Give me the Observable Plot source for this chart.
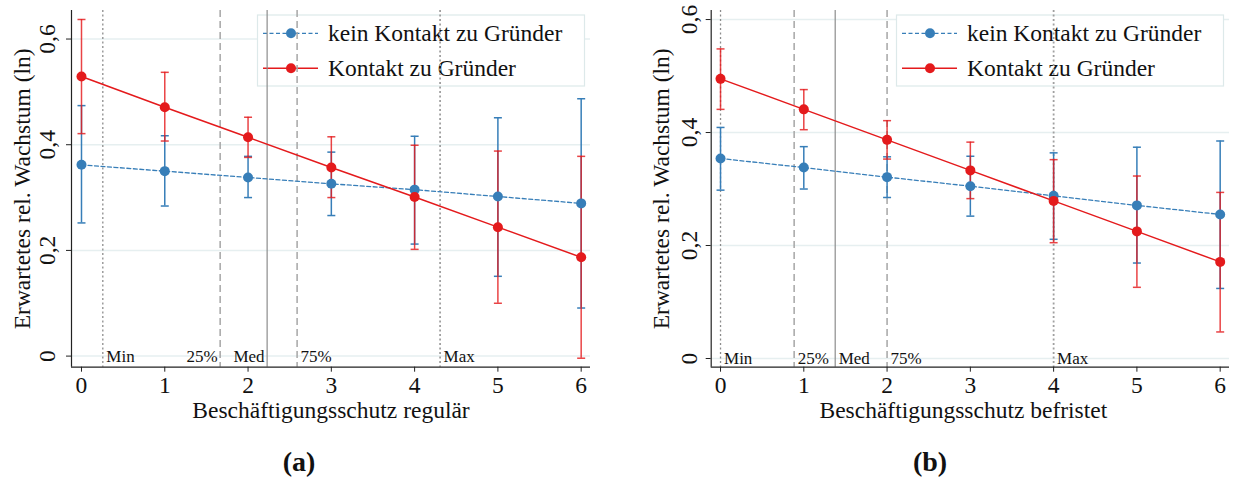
<!DOCTYPE html>
<html>
<head>
<meta charset="utf-8">
<script src="https://cdn.jsdelivr.net/npm/d3@7"></script>
<script src="https://cdn.jsdelivr.net/npm/@observablehq/plot@0.6"></script>
<style>
  html, body { margin: 0; padding: 0; background: #fff; }
  #fig { position: relative; width: 1237px; height: 483px; overflow: hidden; font-family: "Liberation Serif", serif; color: #111; }
  .panel { position: absolute; top: 0; }
  .panel svg { font-family: "Liberation Serif", serif; }
  .cap { position: absolute; font-family: "Liberation Serif", serif; font-weight: bold; font-size: 28px; line-height: 1; transform: translate(-50%, -50%); white-space: nowrap; }
</style>
</head>
<body>
<div id="fig"></div>
<script>
// ---- Data ---------------------------------------------------------------
const xValues = [0, 1, 2, 3, 4, 5, 6];
const xTicks = [0, 1, 2, 3, 4, 5, 6];
const yTicks = [0, 0.2, 0.4, 0.6];
const yTickLabels = ["0", "0,2", "0,4", "0,6"];
const seriesNames = ["kein Kontakt zu Gründer", "Kontakt zu Gründer"];
const yTitle = "Erwartetes rel. Wachstum (ln)";
const refLabels = ["Min", "25%", "Med", "75%", "Max"];

// (a) regular employment protection
const xTitleA = "Beschäftigungsschutz regulär";
const keinA    = [0.362, 0.350, 0.338, 0.326, 0.315, 0.302, 0.289];
const keinALo  = [0.252, 0.284, 0.300, 0.266, 0.212, 0.151, 0.091];
const keinAHi  = [0.474, 0.417, 0.378, 0.386, 0.416, 0.451, 0.487];
const kontaktA   = [0.529, 0.471, 0.414, 0.357, 0.301, 0.244, 0.187];
const kontaktALo = [0.421, 0.407, 0.376, 0.300, 0.202, 0.100, -0.004];
const kontaktAHi = [0.637, 0.537, 0.452, 0.415, 0.399, 0.388, 0.378];
const refA = [0.256, 1.665, 2.229, 2.589, 4.306];

// (b) temporary employment protection
const xTitleB = "Beschäftigungsschutz befristet";
const keinB    = [0.354, 0.338, 0.321, 0.305, 0.288, 0.271, 0.255];
const keinBLo  = [0.298, 0.300, 0.285, 0.252, 0.211, 0.169, 0.124];
const keinBHi  = [0.409, 0.375, 0.357, 0.358, 0.364, 0.374, 0.385];
const kontaktB   = [0.495, 0.441, 0.387, 0.333, 0.279, 0.225, 0.171];
const kontaktBLo = [0.441, 0.405, 0.353, 0.283, 0.205, 0.126, 0.047];
const kontaktBHi = [0.548, 0.476, 0.421, 0.383, 0.352, 0.323, 0.294];
const refB = [0, 0.884, 1.377, 2.0, 4.0];

// ---- Styling --------------------------------------------------------------
const BLUE = "#377eb8";
const RED = "#e41a1c";
const FONT = "Liberation Serif";
const FS = 23.5;

const seriesStyle = [
  {color: BLUE, dash: "4,2.5", width: 1.3},
  {color: RED, dash: null, width: 1.5}
];

const refStyle = {
  "Min": {stroke: "#8c8c8c", dash: "2,2.5", width: 1.3},
  "Max": {stroke: "#a0a0a0", dash: "2,2.5", width: 1.8},
  "25%": {stroke: "#a6a6a6", dash: "7,4", width: 1.5},
  "75%": {stroke: "#a6a6a6", dash: "7,4", width: 1.5},
  "Med": {stroke: "#8c8c8c", dash: null, width: 1.2}
};

// horizontal cap for the confidence interval bars
const capSymbol = {
  draw(context, size) {
    const r = Math.sqrt(size / Math.PI);
    context.moveTo(-r, 0);
    context.lineTo(r, 0);
  }
};

function rowsOf(est, lo, hi) {
  return xValues.map((x, i) => ({x, y: est[i], lo: lo[i], hi: hi[i]}));
}

function legendMark(index, scales, values, dims) {
  const right = dims.width - dims.marginRight - 5.5;
  const top = dims.marginTop + 5;
  const w = 327, h = 71;
  const left = right - w;
  const g = d3.create("svg:g");
  g.append("rect")
    .attr("x", left).attr("y", top).attr("width", w).attr("height", h)
    .attr("fill", "white").attr("stroke", "#dde9ea").attr("stroke-width", 1.2);
  seriesNames.forEach((name, i) => {
    const s = seriesStyle[i];
    const cy = top + 18.3 + i * 35;
    const ln = g.append("line")
      .attr("x1", left + 5.5).attr("x2", left + 60.5)
      .attr("y1", cy).attr("y2", cy)
      .attr("stroke", s.color).attr("stroke-width", s.width);
    if (s.dash) ln.attr("stroke-dasharray", s.dash);
    g.append("circle").attr("cx", left + 33.5).attr("cy", cy).attr("r", 5).attr("fill", s.color);
    g.append("text")
      .attr("x", left + 70.5).attr("y", cy).attr("dy", "0.32em")
      .attr("text-anchor", "start")
      .attr("font-family", FONT).attr("font-size", FS).attr("fill", "#111")
      .text(name);
  });
  return g.node();
}

function panel(cfg) {
  const series = [
    rowsOf(cfg.kein, cfg.keinLo, cfg.keinHi),
    rowsOf(cfg.kontakt, cfg.kontaktLo, cfg.kontaktHi)
  ];
  const refs = refLabels.map((label, i) => ({label, x: cfg.ref[i], base: yTicks[0]}));
  const marks = [];

  // background grid
  marks.push(Plot.ruleY(yTicks, {stroke: "#e6eff0", strokeWidth: 1.5}));

  // legend box (under the reference lines)
  marks.push(legendMark);

  // reference lines for the distribution of the moderator
  for (const r of refs) {
    const st = refStyle[r.label];
    marks.push(Plot.ruleX([r], {x: "x", stroke: st.stroke, strokeWidth: st.width, strokeDasharray: st.dash ?? undefined}));
  }
  const leftSide = refs.filter(r => cfg.labelsLeft.includes(r.label));
  const rightSide = refs.filter(r => !cfg.labelsLeft.includes(r.label));
  marks.push(Plot.text(rightSide, {x: "x", y: "base", text: "label", textAnchor: "start", dx: 3.5, lineAnchor: "middle", fontSize: 17, fontFamily: FONT, fill: "#111"}));
  marks.push(Plot.text(leftSide, {x: "x", y: "base", text: "label", textAnchor: "end", dx: -2.5, lineAnchor: "middle", fontSize: 17, fontFamily: FONT, fill: "#111"}));

  // axes
  marks.push(Plot.ruleX([cfg.xDomain[0]], {stroke: "#222", strokeWidth: 1.2}));
  marks.push(Plot.ruleY([cfg.yDomain[0]], {stroke: "#222", strokeWidth: 1.2}));
  marks.push(Plot.axisX({ticks: xTicks, tickFormat: d => String(d), tickSize: 5, tickPadding: 4.6, fontSize: FS, fontFamily: FONT, label: null, stroke: "#222", fill: "#111"}));
  marks.push(Plot.axisY({ticks: yTicks, tickSize: 5, tickFormat: () => "", label: null, stroke: "#222"}));
  marks.push(Plot.text(yTicks, {y: d => d, text: (d, i) => yTickLabels[i], frameAnchor: "left", dx: cfg.yTickDx, rotate: -90, textAnchor: "middle", lineAnchor: "middle", fontSize: FS, fontFamily: FONT, fill: "#111"}));

  // axis titles
  marks.push(Plot.text([cfg.xTitle], {text: d => d, frameAnchor: "bottom", dy: 43, dx: cfg.xTitleDx, lineAnchor: "middle", fontSize: FS, fontFamily: FONT, fill: "#111"}));
  marks.push(Plot.text([yTitle], {text: d => d, frameAnchor: "left", dx: cfg.yTitleDx, rotate: -90, textAnchor: "middle", lineAnchor: "middle", fontSize: FS, fontFamily: FONT, fill: "#111"}));

  // confidence intervals
  series.forEach((rows, i) => {
    const s = seriesStyle[i];
    const op = i === 1 ? 0.82 : 1;
    marks.push(Plot.ruleX(rows, {x: "x", y1: "lo", y2: "hi", stroke: s.color, strokeWidth: 1.5, strokeOpacity: op}));
    marks.push(Plot.dot(rows, {x: "x", y: "hi", r: 4, symbol: capSymbol, fill: "none", stroke: s.color, strokeWidth: 1.5, strokeOpacity: op}));
    marks.push(Plot.dot(rows, {x: "x", y: "lo", r: 4, symbol: capSymbol, fill: "none", stroke: s.color, strokeWidth: 1.5, strokeOpacity: op}));
  });

  // predicted values
  series.forEach((rows, i) => {
    const s = seriesStyle[i];
    marks.push(Plot.line(rows, {x: "x", y: "y", stroke: s.color, strokeWidth: s.width, strokeDasharray: s.dash ?? undefined}));
    marks.push(Plot.dot(rows, {x: "x", y: "y", r: 5, fill: s.color, stroke: "none"}));
  });

  return Plot.plot({
    width: cfg.width,
    height: 430,
    marginLeft: cfg.marginLeft,
    marginRight: cfg.marginRight,
    marginTop: 10,
    marginBottom: 63.3,
    x: {type: "linear", domain: cfg.xDomain},
    y: {type: "linear", domain: cfg.yDomain},
    style: `font-family: "Liberation Serif", serif; font-size: ${FS}px; background: white; color: #111; overflow: visible;`,
    marks
  });
}

const fig = document.getElementById("fig");

const panelA = panel({
  kein: keinA, keinLo: keinALo, keinHi: keinAHi,
  kontakt: kontaktA, kontaktLo: kontaktALo, kontaktHi: kontaktAHi,
  ref: refA, labelsLeft: ["25%", "Med"],
  xTitle: xTitleA, xTitleDx: 0,
  xDomain: [-0.12, 6.112], yDomain: [-0.021, 0.654],
  width: 600, marginLeft: 71, marginRight: 10,
  yTickDx: -24, yTitleDx: -49
});
const wrapA = document.createElement("div");
wrapA.className = "panel";
wrapA.style.left = "0px";
wrapA.appendChild(panelA);
fig.appendChild(wrapA);

const panelB = panel({
  kein: keinB, keinLo: keinBLo, keinHi: keinBHi,
  kontakt: kontaktB, kontaktLo: kontaktBLo, kontaktHi: kontaktBHi,
  ref: refB, labelsLeft: [],
  xTitle: xTitleB, xTitleDx: -7,
  xDomain: [-0.112, 6.112], yDomain: [-0.0154, 0.616],
  width: 617, marginLeft: 90.7, marginRight: 8,
  yTickDx: -22, yTitleDx: -50
});
const wrapB = document.createElement("div");
wrapB.className = "panel";
wrapB.style.left = "620px";
wrapB.appendChild(panelB);
fig.appendChild(wrapB);

// sub-figure captions
[["(a)", 299], ["(b)", 930]].forEach(([t, cx]) => {
  const d = document.createElement("div");
  d.className = "cap";
  d.style.left = cx + "px";
  d.style.top = "462px";
  d.textContent = t;
  fig.appendChild(d);
});
</script>
</body>
</html>
